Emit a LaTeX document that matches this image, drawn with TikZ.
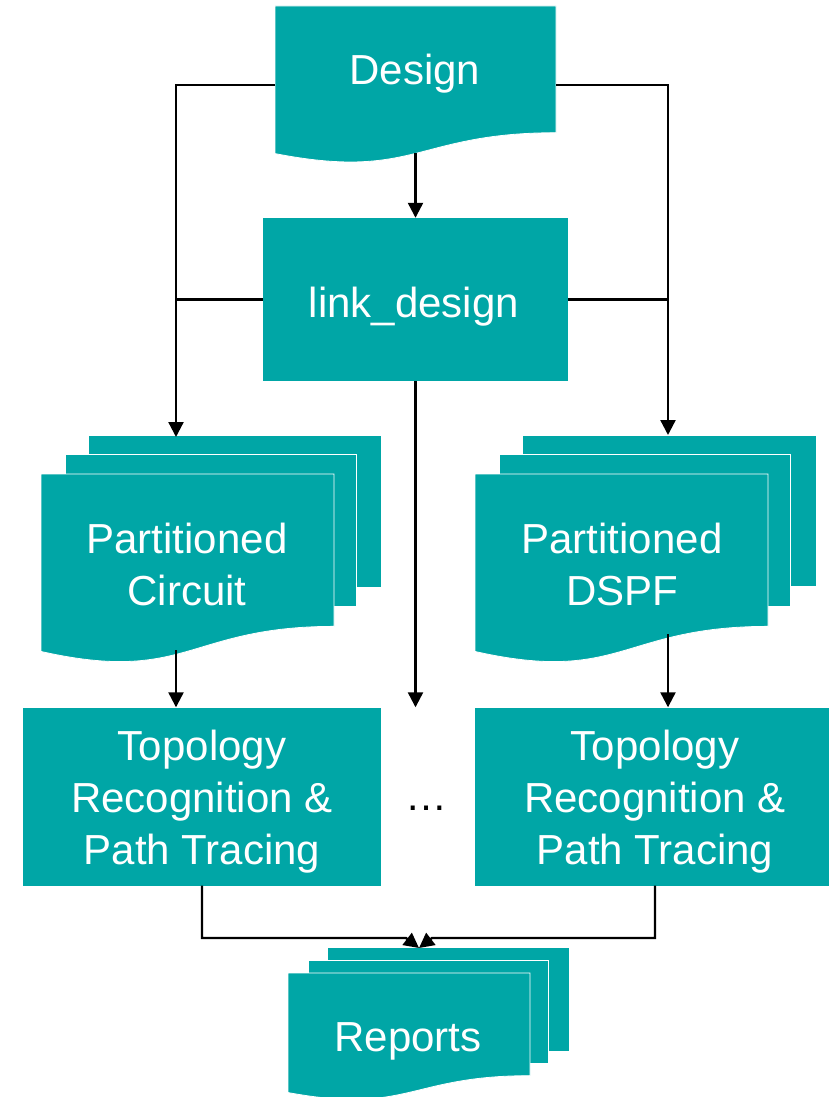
\documentclass[tikz,border=0pt]{standalone}
\usepackage{fontspec}
\setmainfont{Liberation Sans}
\usetikzlibrary{arrows.meta}
\definecolor{flowteal}{RGB}{0,166,166}
\tikzset{
  sheet/.style={fill=flowteal, draw=white, line width=0.8pt},
  procbox/.style={rectangle, fill=flowteal, draw=none, inner sep=0pt},
  lbl/.style={text=white, font=\fontsize{42}{52}\selectfont, align=center, inner sep=0pt},
  conn/.style={draw=black, line width=2.3pt},
  arr/.style={conn, -{Triangle[length=15pt,width=15pt]}},
}
% sheet with a wavy lower edge: top-left x, top-left y, width, height
\newcommand\docsheet[4]{%
  \path[sheet] (#1,#2) -- (#1+#3,#2) -- (#1+#3,#2+0.802*#4)
    .. controls (#1+0.5*#3,#2+0.802*#4) and (#1+0.5*#3,#2+1.1075*#4) ..
    (#1,#2+0.934*#4) -- cycle;}
% plain sheet lying behind a stack: top-left x, top-left y, width, height
\newcommand\flatsheet[4]{\path[sheet] (#1,#2) rectangle ++(#3,#4);}

\begin{document}
\begin{tikzpicture}[x=1pt,y=-1pt]
\useasboundingbox (0,0) rectangle (829,1097);

% input design
\docsheet{275}{6}{281}{158}
% stack of partitioned circuits
\flatsheet{88}{435}{293}{152}
\flatsheet{65}{454}{291}{152}
\docsheet{41}{474}{293}{190}
% stack of partitioned DSPF files
\flatsheet{522}{435}{294}{151}
\flatsheet{499}{454}{291}{152}
\docsheet{475}{474}{293}{190}
% stack of reports
\flatsheet{327}{947}{242}{104}
\flatsheet{308}{960}{240}{103}
\docsheet{288}{973}{242}{128}

% process boxes
\node[procbox, minimum width=305pt, minimum height=163pt] (link) at (415.5,299.5) {};
\node[procbox, minimum width=358pt, minimum height=178pt] (topoL) at (202,796.5) {};
\node[procbox, minimum width=354pt, minimum height=178pt] (topoR) at (652,796.5) {};

% labels
\node[lbl, anchor=base] (designtxt) at (415,85) {Design};
\node[lbl, anchor=base] (linktxt) at (414,317) {link\_design};
\node[lbl] (circtxt) at (187,564) {Partitioned\\Circuit};
\node[lbl] (dspftxt) at (622,564) {Partitioned\\DSPF};
\node[lbl] (topoLtxt) at (202,801.5) {Topology\\Recognition \&\\Path Tracing};
\node[lbl] (topoRtxt) at (655,801.5) {Topology\\Recognition \&\\Path Tracing};
\node[lbl, text=black, anchor=base] (more) at (426,810) {…};
\node[lbl, anchor=base] (reptxt) at (408,1051) {Reports};

% connection points on the sheet outlines
\coordinate (designW) at (275,85);
\coordinate (designE) at (556,85);
\coordinate (designS) at (415.5,153);
\coordinate (circN) at (176,437);
\coordinate (circS) at (176,650);
\coordinate (dspfN) at (668,435);
\coordinate (dspfS) at (668,634);
\coordinate (repN) at (419,948);
\coordinate (joinL) at (406,938);
\coordinate (joinR) at (432,938);

% connectors
\draw[arr] (designS) -- (link.north);
\draw[arr] (designW) -| (circN);
\draw[conn] (link.west) -- (link.west -| circN);
\draw[arr] (designE) -| (dspfN);
\draw[conn] (link.east) -- (link.east -| dspfN);
\draw[arr] (link.south) -- (link.south |- topoL.north);
\draw[arr] (circS) -- (circS |- topoL.north);
\draw[arr] (dspfS) -- (dspfS |- topoR.north);
\draw[arr] (topoL.south) |- (joinL) -- (repN);
\draw[arr] ([xshift=3pt]topoR.south) |- (joinR) -- (repN);
\end{tikzpicture}
\end{document}
